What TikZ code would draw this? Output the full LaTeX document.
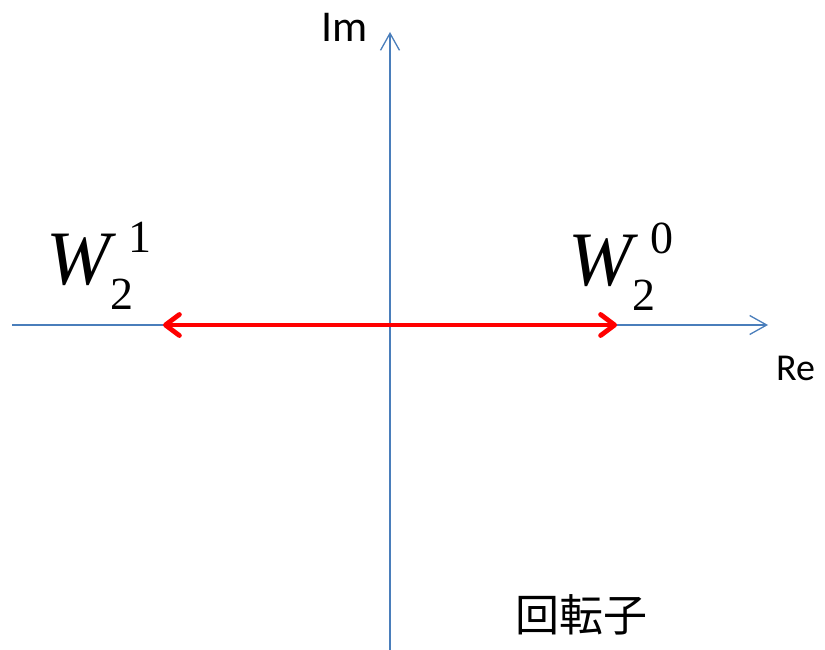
\documentclass[tikz,border=0pt]{standalone}
\usepackage{fontspec}
\setmainfont{Carlito}
\newfontfamily\tnr{Liberation Serif}
\newfontfamily\cjk{Noto Sans CJK JP}
\usetikzlibrary{arrows.meta}
\definecolor{axisblue}{RGB}{74,126,187}
\newcommand{\wfac}[2]{{\tnr\fontsize{77}{77}\selectfont\itshape W}%
  \rlap{\raisebox{-25pt}{\tnr\fontsize{46}{46}\selectfont #1}}%
  \kern18pt\raisebox{32pt}{\tnr\fontsize{46}{46}\selectfont #2}}
\tikzset{
  axis/.style={axisblue, line width=1.3pt, -{Straight Barb[length=17pt,width=19pt]}},
  rotarrow/.style={red, line width=4.8pt, {Straight Barb[length=14pt,width=21pt,round]}-{Straight Barb[length=14pt,width=21pt,round]}},
  lbl/.style={inner sep=0pt, anchor=base west}
}
\begin{document}
\begin{tikzpicture}[x=1pt, y=-1pt]
    \useasboundingbox[fill=white] (0,0) rectangle (825,650);

    % axes
    \coordinate (xl) at (12,325);
    \coordinate (xr) at (768,325);
    \coordinate (yb) at (390,650);
    \coordinate (yt) at (390,32);
    \draw[axis] (xl) -- (xr);
    \draw[axis] (yb) -- (yt);

    \node[lbl, font=\fontsize{44}{44}\selectfont] (im) at (321,42) {Im};
    \node[lbl, font=\fontsize{38}{38}\selectfont] (re) at (776,380) {Re};

    % twiddle factors
    \node[lbl] (w1) at (46,284) {\wfac{2}{1}};
    \node[lbl] (w0) at (568,285) {\wfac{2}{0}};

    \coordinate (p1) at (163,325);
    \coordinate (p0) at (617,325);
    \draw[rotarrow] (p1) -- (p0);

    \node[font=\cjk\fontsize{44}{44}\selectfont, inner sep=0pt] (rot) at (581,615) {回転子};
\end{tikzpicture}
\end{document}
